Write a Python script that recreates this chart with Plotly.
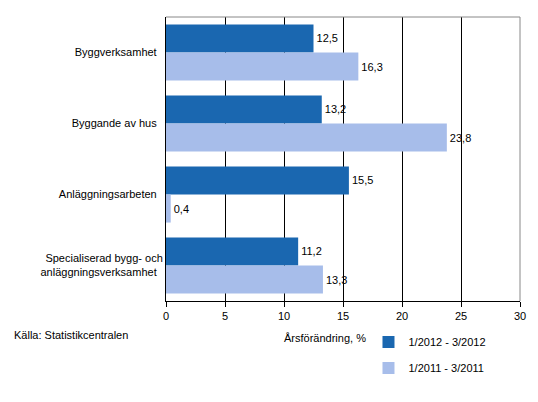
import plotly.graph_objects as go

categories = ["Byggverksamhet", "Byggande av hus", "Anläggningsarbeten",
              "Specialiserad bygg- och<br>anläggningsverksamhet"]
series_names = ["1/2012 - 3/2012", "1/2011 - 3/2011"]
values_2012 = [12.5, 13.2, 15.5, 11.2]
values_2011 = [16.3, 23.8, 0.4, 13.3]
colors = ["#1a67b0", "#a7bdea"]

fig = go.Figure()
for i, (name, vals) in enumerate(zip(series_names, [values_2012, values_2011])):
    fig.add_trace(go.Bar(
        y=categories, x=vals, orientation="h", name=name,
        marker=dict(color=colors[i], line=dict(width=0)),
        text=[f"{v:.1f}".replace(".", ",") for v in vals],
        textposition="outside", cliponaxis=False,
        textfont=dict(color="black", size=11),
        legendgroup=f"g{i}",
    ))

fig.update_layout(
    width=538, height=402,
    margin=dict(l=166, r=18, t=17, b=101, autoexpand=False),
    barmode="group", bargap=0.21, bargroupgap=0,
    plot_bgcolor="white", paper_bgcolor="white",
    font=dict(family="Liberation Sans, Arial, sans-serif", size=11, color="black"),
    xaxis=dict(range=[0, 30], dtick=5, showgrid=True, gridcolor="black", gridwidth=1,
               showline=True, linecolor="black", mirror=False, automargin=False,
               ticks="outside", ticklen=5, tickcolor="black", zeroline=False,
               tickfont=dict(size=11)),
    yaxis=dict(autorange="reversed", showline=True, linecolor="black", automargin=False,
               ticks="", ticksuffix="  ", tickfont=dict(size=11)),
    legend=dict(x=0.572, y=-0.093, xanchor="left", yanchor="top",
                tracegroupgap=7, itemwidth=30, font=dict(size=11),
                bgcolor="rgba(0,0,0,0)"),
    showlegend=True,
    shapes=[
        dict(type="line", xref="paper", yref="paper", x0=0, x1=1, y0=1, y1=1,
             line=dict(color="#888888", width=1)),
        dict(type="line", xref="paper", yref="paper", x0=1, x1=1, y0=0, y1=1,
             line=dict(color="#888888", width=1)),
    ],
    annotations=[
        dict(text="Årsförändring, %", xref="paper", yref="paper", x=0.45, y=-0.13,
             showarrow=False, xanchor="center", yanchor="middle", font=dict(size=11)),
        dict(text="Källa: Statistikcentralen", xref="paper", yref="paper",
             x=-0.435, y=-0.12, showarrow=False, xanchor="left", yanchor="middle",
             font=dict(size=11)),
    ],
)

html_file = "out.html"
fig.write_html(html_file, config={"displayModeBar": False})

# Remove default page margin so the chart sits at the top-left corner
with open(html_file, "r", encoding="utf-8") as f:
    html_content = f.read()
html_content = html_content.replace(
    "<head>", "<head>\n<style>body { margin: 0; }</style>", 1)
with open(html_file, "w", encoding="utf-8") as f:
    f.write(html_content)
